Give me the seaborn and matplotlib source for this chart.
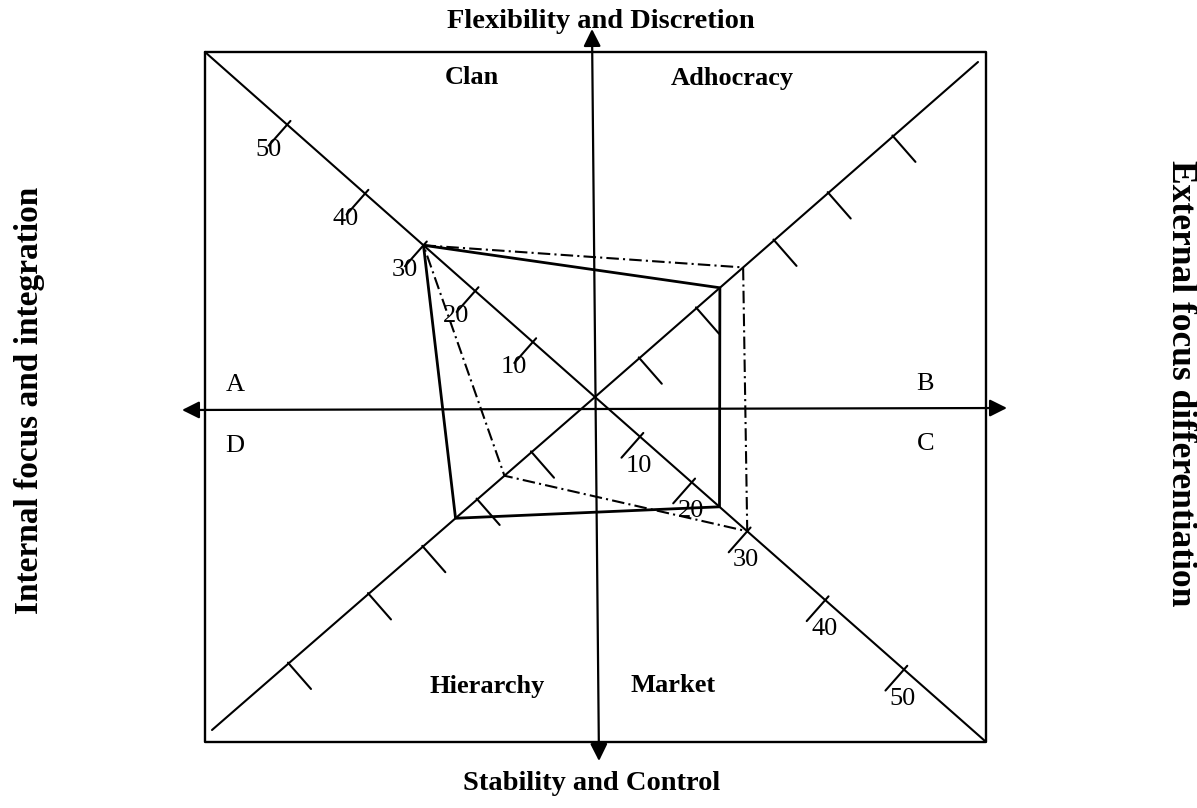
import numpy as np
import pandas as pd
import matplotlib.pyplot as plt
import seaborn as sns

sns.set_theme(style="white")
plt.rcParams["font.family"] = ["Liberation Serif", "DejaVu Serif"]
plt.rcParams["text.color"] = "black"

# profile scores
ARMS = ["Clan", "Adhocracy", "Market", "Hierarchy"]
SOLID_SCORES = [30, 23, 25, 24]
DASHDOT_SCORES = [30, 26, 30, 15]
TICK_VALUES = [10, 20, 30, 40, 50]
TICK_LABELS = ["10", "20", "30", "40", "50"]
LABELLED_ARMS = ["Clan", "Market"]

QUADRANT_LETTERS = ["A", "B", "C", "D"]
TOP_TITLE = "Flexibility and Discretion"
BOTTOM_TITLE = "Stability and Control"
LEFT_TITLE = "Internal focus and integration"
RIGHT_TITLE = "External focus differentiation"

# layout, in pixel space of the page (y grows downward)
W, H = 1197, 808
CENTER = np.array([595.0, 397.0])
ARM_ENDS = {"Clan": (205, 52), "Adhocracy": (978, 62), "Market": (985, 741), "Hierarchy": (212, 730)}
# hand drawn scale: each arm keeps its own tick spacing (px from centre)
ARM_TICK_PX = {
    "Clan": [83, 160, 229, 307, 411],
    "Adhocracy": [59, 135, 238, 310, 396],
    "Market": [60, 129, 203, 307, 412],
    "Hierarchy": [84, 156, 228, 300, 406],
}
TICK_SIDE = {"Clan": "Market", "Market": "Market", "Adhocracy": "Adhocracy", "Hierarchy": "Adhocracy"}
LABEL_OFFSET = {"Clan": (-19, 25), "Market": (-1, 29)}


def unit(arm):
    v = np.array(ARM_ENDS[arm], dtype=float) - CENTER
    return v / np.linalg.norm(v)


def arm_point(arm, score):
    d = np.interp(score, [0] + TICK_VALUES, [0] + ARM_TICK_PX[arm])
    return CENTER + d * unit(arm)


def profile_frame(name, scores):
    pts = [arm_point(a, s) for a, s in zip(ARMS, scores)]
    pts.append(pts[0])
    return pd.DataFrame({"x": [p[0] for p in pts], "y": [p[1] for p in pts],
                         "order": range(len(pts)), "profile": name})


fig = plt.figure(figsize=(W / 100, H / 100), dpi=100)
ax = fig.add_axes([0, 0, 1, 1])

# frame
ax.plot([205, 986, 986, 205, 205], [52, 52, 742, 742, 52], color="black", lw=1.7)

# diagonals
for arm in ARMS:
    ex, ey = ARM_ENDS[arm]
    ax.plot([CENTER[0], ex], [CENTER[1], ey], color="black", lw=1.5)

# main axes with arrow heads
arrow = dict(arrowstyle="<|-|>", mutation_scale=26, lw=1.6, color="black", shrinkA=0, shrinkB=0)
ax.annotate("", xy=(592, 29), xytext=(599, 761), arrowprops=arrow)
ax.annotate("", xy=(182, 410), xytext=(1007, 408), arrowprops=arrow)

# tick marks on the diagonals
for arm in ARMS:
    ref = unit(TICK_SIDE[arm])
    perp = np.array([-ref[1], ref[0]])
    over, length = (5, 28) if TICK_SIDE[arm] == "Market" else (1, 34)
    for val, lab in zip(TICK_VALUES, TICK_LABELS):
        p = arm_point(arm, val)
        a, b = p - over * perp, p + length * perp
        ax.plot([a[0], b[0]], [a[1], b[1]], color="black", lw=1.5)
        if arm in LABELLED_ARMS:
            dx, dy = LABEL_OFFSET[arm]
            ax.text(p[0] + dx, p[1] + dy, lab, fontsize=19, ha="center", va="center")

# the two culture profiles
solid_df = profile_frame("current", SOLID_SCORES)
dash_df = profile_frame("preferred", DASHDOT_SCORES)
sns.lineplot(data=solid_df, x="x", y="y", sort=False, estimator=None, color="black",
             lw=2.0, ax=ax, legend=False)
line = sns.lineplot(data=dash_df, x="x", y="y", sort=False, estimator=None, color="black",
                    lw=1.5, ax=ax, legend=False).lines[-1]
line.set_dashes((6, 2, 1, 2))

# texts
bold = dict(fontweight="bold", ha="center", va="center")
ax.text(601, 22, TOP_TITLE, fontsize=20.5, **bold)
ax.text(592, 783, BOTTOM_TITLE, fontsize=20.5, **bold)
ax.text(30, 400, LEFT_TITLE, fontsize=24, rotation=90, **bold)
ax.text(1181, 383, RIGHT_TITLE, fontsize=25.5, rotation=-90, **bold)

for name, (x, y) in zip(ARMS, [(472, 78), (732, 78), (673, 686), (487, 686)]):
    ax.text(x, y, name, fontsize=19, **bold)
for letter, (x, y) in zip(QUADRANT_LETTERS, [(235, 385), (925, 384), (926, 444), (235, 446)]):
    ax.text(x, y, letter, fontsize=19, ha="center", va="center")

ax.set_xlim(0, W)
ax.set_ylim(H, 0)
ax.set_axis_off()
fig.savefig("out.png", dpi=100, facecolor="white")
